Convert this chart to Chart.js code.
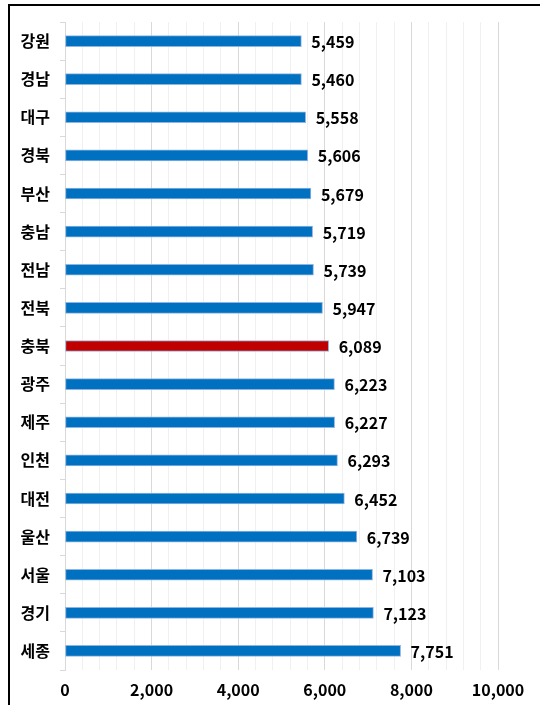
<!DOCTYPE html>
<html>
<head>
<meta charset="utf-8">
<script src="https://cdn.jsdelivr.net/npm/chart.js@4"></script>
<style>
  html, body { margin: 0; padding: 0; background: #fff; }
  #wrap { position: relative; width: 540px; height: 705px; overflow: hidden; }
  #frame { position: absolute; left: 8px; top: 4px; width: 600px; height: 800px;
           border-left: 2px solid #000; border-top: 2px solid #000; }
  #holder { position: absolute; left: 0; top: 0; width: 540px; height: 705px; }
</style>
</head>
<body>
<div id="wrap">
  <div id="frame"></div>
  <div id="holder"><canvas id="regions"></canvas></div>
</div>
<script>
const regions = ['강원', '경남', '대구', '경북', '부산', '충남', '전남', '전북', '충북', '광주', '제주', '인천', '대전', '울산', '서울', '경기', '세종']
const values = [5459, 5460, 5558, 5606, 5679, 5719, 5739, 5947, 6089, 6223, 6227, 6293, 6452, 6739, 7103, 7123, 7751]
const highlight = '충북'
const xTicks = [0, 2000, 4000, 6000, 8000, 10000]

const fontFamily = "'Noto Sans CJK KR', 'Noto Sans', sans-serif"

const barColors = regions.map(r => r == highlight ? '#C00000' : '#0070C0')

const valueLabels = {
  id: 'valueLabels',
  afterDatasetsDraw(chart) {
    const ctx = chart.ctx
    const meta = chart.getDatasetMeta(0)
    ctx.save()
    ctx.font = 'bold 16px ' + fontFamily
    ctx.fillStyle = '#000'
    ctx.textAlign = 'left'
    ctx.textBaseline = 'middle'
    meta.data.forEach((bar, i) => {
      ctx.fillText(values[i].toLocaleString('en-US'), bar.x + 10, bar.y + 1)
    })
    ctx.restore()
  }
}

new Chart('regions', {
  type: 'bar',
  data: {
    labels: regions,
    datasets: [{
      data: values,
      backgroundColor: barColors,
      borderColor: '#8FB4E3',
      borderWidth: 1,
      borderSkipped: false,
      barThickness: 11
    }]
  },
  options: {
    indexAxis: 'y',
    responsive: true,
    maintainAspectRatio: false,
    animation: false,
    layout: { padding: { left: 0, right: 42, top: 22, bottom: 0 } },
    plugins: {
      legend: { display: false },
      tooltip: { enabled: false }
    },
    scales: {
      y: {
        afterFit: scale => { scale.width = 65 },
        grid: {
          offset: true,
          drawOnChartArea: false,
          tickLength: 5,
          color: '#d9d9d9'
        },
        border: { display: true, color: '#d9d9d9' },
        ticks: {
          padding: 10,
          color: '#000',
          font: { family: fontFamily, size: 16, weight: 'bold' }
        }
      },
      x: {
        min: 0,
        max: 10000,
        afterFit: scale => { scale.height = 35 },
        border: { display: false },
        grid: {
          drawTicks: false,
          color: ctx => (xTicks.includes(ctx.tick.value) ? '#d9d9d9' : '#f0f0f0')
        },
        ticks: {
          stepSize: 400,
          autoSkip: false,
          maxRotation: 0,
          padding: 10,
          color: '#000',
          font: { family: fontFamily, size: 16, weight: 'bold' },
          callback: v => (xTicks.includes(v) ? v.toLocaleString('en-US') : '')
        }
      }
    }
  },
  plugins: [valueLabels]
})
</script>
</body>
</html>
